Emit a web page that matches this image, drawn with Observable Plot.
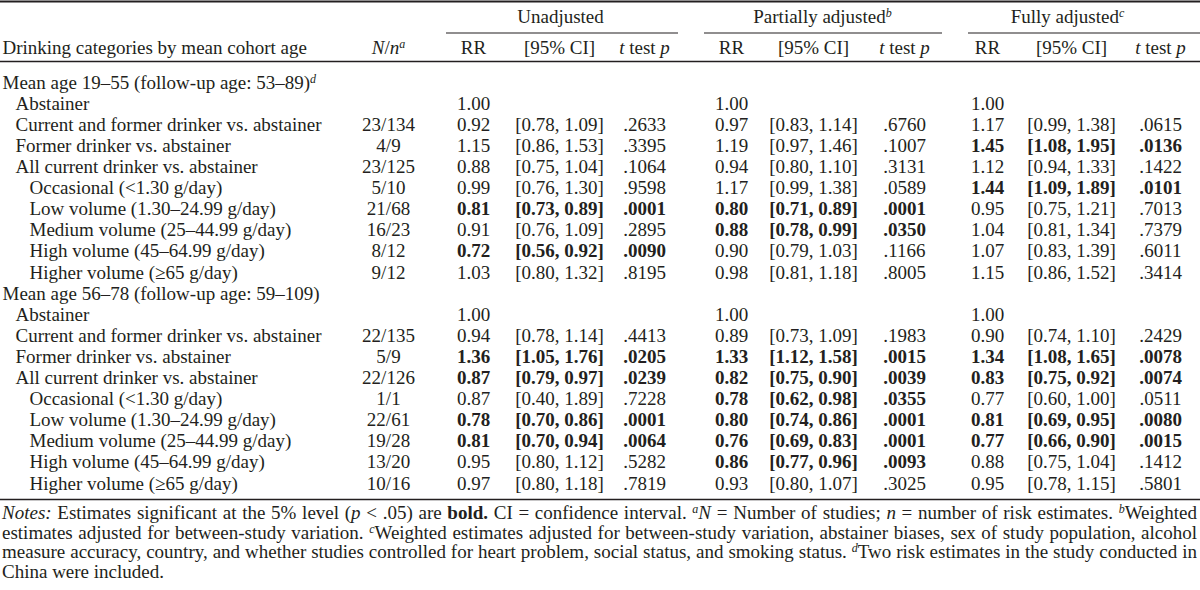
<!DOCTYPE html>
<html><head><meta charset="utf-8">
<script src="https://cdn.jsdelivr.net/npm/d3@7"></script>
<script src="https://cdn.jsdelivr.net/npm/@observablehq/plot@0.6"></script>
<style>
body{margin:0;background:#fff;}
#chart svg{display:block;}
#notes{font-family:"Liberation Serif","Times New Roman",serif;font-size:19px;line-height:19.5px;color:#231f20;width:1195px;margin-left:2px;}
#notes div{text-align:justify;text-align-last:justify;}
#notes div.last{text-align-last:left;}
#notes sup{font-size:12px;line-height:0;vertical-align:6px;font-style:italic;}
</style></head><body>
<div id="chart"></div>
<div id="notes">
<div><i>Notes:</i> Estimates significant at the 5% level (<i>p</i> &lt; .05) are <b>bold.</b> CI = confidence interval. <sup>a</sup><i>N</i> = Number of studies; <i>n</i> = number of risk estimates. <sup>b</sup>Weighted</div>
<div>estimates adjusted for between-study variation. <sup>c</sup>Weighted estimates adjusted for between-study variation, abstainer biases, sex of study population, alcohol</div>
<div>measure accuracy, country, and whether studies controlled for heart problem, social status, and smoking status. <sup>d</sup>Two risk estimates in the study conducted in</div>
<div class="last">China were included.</div>
</div>
<script>
// ---------------- data ----------------
const rowLabels = [
  "Mean age 19–55 (follow-up age: 53–89)", "Abstainer", "Current and former drinker vs. abstainer",
  "Former drinker vs. abstainer", "All current drinker vs. abstainer", "Occasional (<1.30 g/day)",
  "Low volume (1.30–24.99 g/day)", "Medium volume (25–44.99 g/day)", "High volume (45–64.99 g/day)",
  "Higher volume (≥65 g/day)",
  "Mean age 56–78 (follow-up age: 59–109)", "Abstainer", "Current and former drinker vs. abstainer",
  "Former drinker vs. abstainer", "All current drinker vs. abstainer", "Occasional (<1.30 g/day)",
  "Low volume (1.30–24.99 g/day)", "Medium volume (25–44.99 g/day)", "High volume (45–64.99 g/day)",
  "Higher volume (≥65 g/day)"
];
const rowLevel = [0,1,1,1,1,2,2,2,2,2, 0,1,1,1,1,2,2,2,2,2];
const rowNote  = ["d","","","","","","","","","", "","","","","","","","","",""];
const nn = ["","","23/134","4/9","23/125","5/10","21/68","16/23","8/12","9/12",
            "","","22/135","5/9","22/126","1/1","22/61","19/28","13/20","10/16"];

const unRR = [null,"1.00","0.92","1.15","0.88","0.99","0.81","0.91","0.72","1.03",
              null,"1.00","0.94","1.36","0.87","0.87","0.78","0.81","0.95","0.97"];
const unCI = [null,null,"[0.78, 1.09]","[0.86, 1.53]","[0.75, 1.04]","[0.76, 1.30]","[0.73, 0.89]","[0.76, 1.09]","[0.56, 0.92]","[0.80, 1.32]",
              null,null,"[0.78, 1.14]","[1.05, 1.76]","[0.79, 0.97]","[0.40, 1.89]","[0.70, 0.86]","[0.70, 0.94]","[0.80, 1.12]","[0.80, 1.18]"];
const unP  = [null,null,".2633",".3395",".1064",".9598",".0001",".2895",".0090",".8195",
              null,null,".4413",".0205",".0239",".7228",".0001",".0064",".5282",".7819"];

const paRR = [null,"1.00","0.97","1.19","0.94","1.17","0.80","0.88","0.90","0.98",
              null,"1.00","0.89","1.33","0.82","0.78","0.80","0.76","0.86","0.93"];
const paCI = [null,null,"[0.83, 1.14]","[0.97, 1.46]","[0.80, 1.10]","[0.99, 1.38]","[0.71, 0.89]","[0.78, 0.99]","[0.79, 1.03]","[0.81, 1.18]",
              null,null,"[0.73, 1.09]","[1.12, 1.58]","[0.75, 0.90]","[0.62, 0.98]","[0.74, 0.86]","[0.69, 0.83]","[0.77, 0.96]","[0.80, 1.07]"];
const paP  = [null,null,".6760",".1007",".3131",".0589",".0001",".0350",".1166",".8005",
              null,null,".1983",".0015",".0039",".0355",".0001",".0001",".0093",".3025"];

const faRR = [null,"1.00","1.17","1.45","1.12","1.44","0.95","1.04","1.07","1.15",
              null,"1.00","0.90","1.34","0.83","0.77","0.81","0.77","0.88","0.95"];
const faCI = [null,null,"[0.99, 1.38]","[1.08, 1.95]","[0.94, 1.33]","[1.09, 1.89]","[0.75, 1.21]","[0.81, 1.34]","[0.83, 1.39]","[0.86, 1.52]",
              null,null,"[0.74, 1.10]","[1.08, 1.65]","[0.75, 0.92]","[0.60, 1.00]","[0.69, 0.95]","[0.66, 0.90]","[0.75, 1.04]","[0.78, 1.15]"];
const faP  = [null,null,".0615",".0136",".1422",".0101",".7013",".7379",".6011",".3414",
              null,null,".2429",".0078",".0074",".0511",".0080",".0015",".1412",".5801"];

const groupTitles = ["Unadjusted", "Partially adjusted", "Fully adjusted"];
const groupNotes  = ["", "b", "c"];
const colTitles   = ["RR", "[95% CI]", "*t* test *p*"];
const stubTitle   = "Drinking categories by mean cohort age";
const nnTitle     = "*N*/*n*^a";
const alpha = 0.05;

// ---------------- layout (positions/styles only) ----------------
const W = 1200, H = 503;
const ink = "#231f20";
const font = {fontFamily: "Liberation Serif, Times New Roman, serif", fontSize: 19, fill: ink};
const rowFirstPx = 82, rowLastPx = 483;
const indentX = [2, 15, 29];
const nnX = 388;
const groupCols = [[473, 559, 644], [731, 813, 904], [987, 1071, 1160]];
const groupCenter = [560, 822, 1067];
const groupSpan = [[446, 678], [704, 942], [968, 1200]];
const yPx = {topRule: 1, groupTitle: 16, underline: 32.5, colTitle: 47, headRule: 61, bottomRule: 499};

const rowScale = d3.scaleLinear().domain([0, rowLabels.length - 1]).range([rowFirstPx, rowLastPx]);
const R = px => rowScale.invert(px);   // pixel layout -> row units

// ---------------- cells ----------------
const groups = [[unRR, unCI, unP], [paRR, paCI, paP], [faRR, faCI, faP]];
const labelCells = rowLabels.map((t, i) => ({row: i, level: rowLevel[i], text: t + (rowNote[i] ? "^" + rowNote[i] : "")}));
const valueCells = [];
rowLabels.forEach((_, i) => {
  if (nn[i]) valueCells.push({row: i, x: nnX, text: nn[i], bold: false});
  groups.forEach((g, gi) => {
    const p = g[2][i];
    const sig = p != null && parseFloat("0" + p) < alpha;
    g.forEach((col, ci) => {
      if (col[i] != null) valueCells.push({row: i, x: groupCols[gi][ci], text: col[i], bold: sig});
    });
  });
});
const groupHeads = groupTitles.map((t, gi) => ({x: groupCenter[gi], text: t + (groupNotes[gi] ? "^" + groupNotes[gi] : ""), x1: groupSpan[gi][0], x2: groupSpan[gi][1]}));
const colHeads = [{x: indentX[0], text: stubTitle, anchor: "start"}, {x: nnX, text: nnTitle, anchor: "middle"}];
groupCols.forEach(cols => cols.forEach((x, ci) => colHeads.push({x, text: colTitles[ci], anchor: "middle"})));

const chart = Plot.plot({
  width: W, height: H,
  margin: 0,
  x: {domain: [0, W], range: [0, W], axis: null},
  y: {domain: [0, rowLabels.length - 1], range: [rowFirstPx, rowLastPx], axis: null},
  style: {background: "#fff", color: ink, fontFamily: font.fontFamily},
  marks: [
    Plot.ruleY([R(yPx.topRule)], {x1: 0, x2: W, stroke: ink, strokeWidth: 2}),
    Plot.ruleY([R(yPx.headRule)], {x1: 0, x2: W, stroke: ink, strokeWidth: 1.3}),
    Plot.ruleY([R(yPx.bottomRule)], {x1: 0, x2: W, stroke: ink, strokeWidth: 1.3}),
    Plot.ruleY(groupHeads, {y: () => R(yPx.underline), x1: "x1", x2: "x2", stroke: ink, strokeWidth: 1.2}),
    Plot.text(groupHeads, {x: "x", y: () => R(yPx.groupTitle), text: "text", ...font}),
    Plot.text(colHeads.filter(d => d.anchor === "start"), {x: "x", y: () => R(yPx.colTitle), text: "text", textAnchor: "start", ...font}),
    Plot.text(colHeads.filter(d => d.anchor === "middle"), {x: "x", y: () => R(yPx.colTitle), text: "text", ...font}),
    Plot.text(labelCells, {x: d => indentX[d.level], y: "row", text: "text", textAnchor: "start", ...font}),
    Plot.text(valueCells.filter(d => !d.bold), {x: "x", y: "row", text: "text", ...font}),
    Plot.text(valueCells.filter(d => d.bold), {x: "x", y: "row", text: "text", fontWeight: "bold", ...font})
  ]
});

// rich text: *x* italic, ^x superscript italic letter
function rich(svg) {
  const NS = "http://www.w3.org/2000/svg";
  svg.querySelectorAll("text").forEach(t => {
    const s = t.textContent;
    if (!/[*^]/.test(s)) return;
    while (t.firstChild) t.removeChild(t.firstChild);
    s.split(/(\*[^*]+\*|\^[a-z])/).filter(p => p).forEach(p => {
      const ts = document.createElementNS(NS, "tspan");
      if (p[0] === "*") { ts.textContent = p.slice(1, -1); ts.setAttribute("font-style", "italic"); }
      else if (p[0] === "^") { ts.textContent = p.slice(1); ts.setAttribute("font-style", "italic"); ts.setAttribute("font-size", "12"); ts.setAttribute("baseline-shift", "6"); }
      else ts.textContent = p;
      t.appendChild(ts);
    });
  });
}
rich(chart);
document.getElementById("chart").appendChild(chart);
</script>
</body></html>
